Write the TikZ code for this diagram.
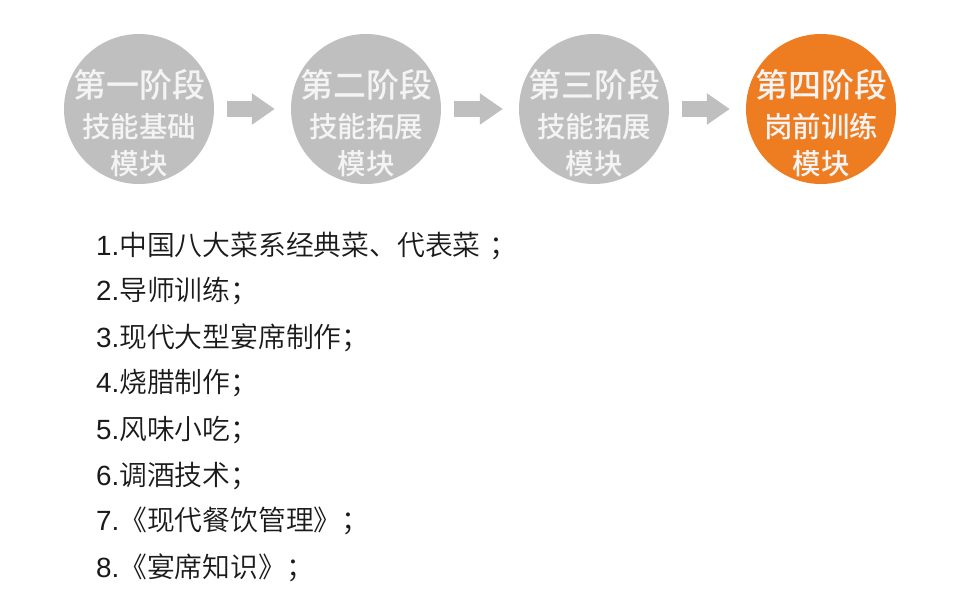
\documentclass[tikz,border=0pt]{standalone}
\usepackage{fontspec}
\setmainfont{Noto Sans CJK SC}[UprightFont={* DemiLight}]
\newfontfamily\cjkmed{Noto Sans CJK SC}[UprightFont={* Medium}]
\newfontfamily\latinnum{Liberation Sans}
\usetikzlibrary{arrows.meta}
\definecolor{gcirc}{HTML}{BFBFBF}
\definecolor{ocirc}{HTML}{EE7D22}
\definecolor{ctext}{HTML}{F4F4F4}
\definecolor{ltext}{HTML}{1A1A1A}
\newcommand{\num}[1]{{\latinnum #1}}
\begin{document}
\begin{tikzpicture}[x=1pt,y=-1pt,
  stage/.style={circle, minimum size=150pt, inner sep=0pt, fill=gcirc},
  headtxt/.style={inner sep=0pt, text=ctext, font=\cjkmed\fontsize{33}{33}\selectfont},
  subtxt/.style={inner sep=0pt, text=ctext, font=\cjkmed\fontsize{28.5}{28.5}\selectfont},
  flow/.style={draw=gcirc, line width=16pt, -{Triangle[length=23pt,width=30pt]}, shorten <=13pt, shorten >=16pt},
  item/.style={anchor=west, inner sep=0pt, text=ltext, font=\fontsize{27.8}{27.8}\selectfont}]
\useasboundingbox (0,0) rectangle (960,607);
\fill[white] (0,0) rectangle (960,607);
% stages
\node[stage] (c1) at (139,109) {};
\node[stage] (c2) at (366,109) {};
\node[stage] (c3) at (594,109) {};
\node[stage, fill=ocirc] (c4) at (821,109) {};
% stage texts
\node[headtxt] (h1) at (139,85) {第一阶段};
\node[subtxt] (s1a) at (139,127) {技能基础};
\node[subtxt] (s1b) at (139,164) {模块};
\node[headtxt] (h2) at (366,85) {第二阶段};
\node[subtxt] (s2a) at (366,127) {技能拓展};
\node[subtxt] (s2b) at (366,164) {模块};
\node[headtxt] (h3) at (594,85) {第三阶段};
\node[subtxt] (s3a) at (594,127) {技能拓展};
\node[subtxt] (s3b) at (594,164) {模块};
\node[headtxt] (h4) at (821,85) {第四阶段};
\node[subtxt] (s4a) at (821,127) {岗前训练};
\node[subtxt] (s4b) at (821,164) {模块};
% arrows
\draw[flow] (c1) -- (c2);
\draw[flow] (c2) -- (c3);
\draw[flow] (c3) -- (c4);
% list
\node[item] (i1) at (96,246) {\num{1.}中国八大菜系经典菜、代表菜\kern0.3em；};
\node[item] (i2) at (96,291) {\num{2.}导师训练；};
\node[item] (i3) at (96,338) {\num{3.}现代大型宴席制作；};
\node[item] (i4) at (96,383) {\num{4.}烧腊制作；};
\node[item] (i5) at (96,430) {\num{5.}风味小吃；};
\node[item] (i6) at (96,476) {\num{6.}调酒技术；};
\node[item] (i7) at (96,521) {\num{7.}《现代餐饮管理》；};
\node[item] (i8) at (96,568) {\num{8.}《宴席知识》；};
\end{tikzpicture}
\end{document}
